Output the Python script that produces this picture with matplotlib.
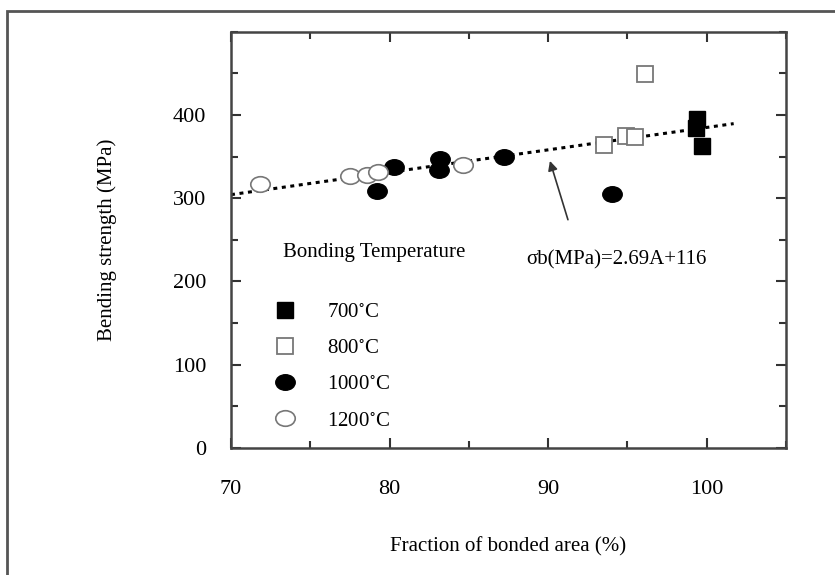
import matplotlib
matplotlib.use('Agg')
import matplotlib.pyplot as plt
import numpy as np
from matplotlib.path import Path
from matplotlib.patches import Rectangle
from matplotlib.ticker import MultipleLocator

plt.rcParams['font.family'] = ['Liberation Serif', 'DejaVu Serif']
plt.rcParams['mathtext.fontset'] = 'stix'

# data: fraction of bonded area (%) vs bending strength (MPa)
x700 = [99.4, 99.3, 99.7]
y700 = [395, 384, 363]
x800 = [96.1, 93.5, 94.9, 95.5]
y800 = [449, 364, 375, 373]
x1000 = [79.2, 80.3, 83.2, 83.1, 87.2, 94.0]
y1000 = [309, 338, 347, 334, 350, 305]
x1200 = [71.8, 77.5, 78.6, 79.3, 84.6]
y1200 = [317, 327, 328, 331, 340]
labels = ['700$^{\\circ}$C', '800$^{\\circ}$C', '1000$^{\\circ}$C', '1200$^{\\circ}$C']

# fit: sigma_b = 2.69 A + 116
slope, intercept = 2.69, 116
fit_x = np.array([70, 101.7])

# oval marker, a bit wider than tall
circ = Path.unit_circle()
oval = Path(circ.vertices * np.array([1.0, 0.8]), circ.codes)

fig = plt.figure(figsize=(8.35, 5.75), dpi=100)
ax = fig.add_axes([231 / 835, 1 - 448 / 575, 555 / 835, 416.3 / 575])

# outer frame (only left and top edges show)
fig.add_artist(Rectangle((7 / 835, -0.1), 1.2, 1.1 - 11 / 575,
                         transform=fig.transFigure, fill=False,
                         edgecolor='#555555', linewidth=2, clip_on=False))

ax.plot(fit_x, slope * fit_x + intercept, color='black', linewidth=2.2,
        linestyle=(0, (1.3, 1.5)), zorder=2)

ax.plot(x700, y700, linestyle='none', marker='s', markersize=12,
        markerfacecolor='black', markeredgecolor='black', label=labels[0], zorder=3)
ax.plot(x800, y800, linestyle='none', marker='s', markersize=12,
        markerfacecolor='white', markeredgecolor='#777777', markeredgewidth=1.3,
        label=labels[1], zorder=3)
ax.plot(x1000, y1000, linestyle='none', marker=oval, markersize=14,
        markerfacecolor='black', markeredgecolor='black', label=labels[2], zorder=3)
ax.plot(x1200, y1200, linestyle='none', marker=oval, markersize=14,
        markerfacecolor='white', markeredgecolor='#777777', markeredgewidth=1.2,
        label=labels[3], zorder=3)

ax.set_xlim(70, 105)
ax.set_ylim(0, 500)
ax.set_xticks([70, 80, 90, 100])
ax.set_yticks([0, 100, 200, 300, 400])
ax.xaxis.set_minor_locator(MultipleLocator(5))
ax.yaxis.set_minor_locator(MultipleLocator(50))
ax.tick_params(which='both', direction='in', top=True, right=True,
               width=1.5, color='#333333', labelsize=16)
ax.tick_params(which='major', length=7)
ax.tick_params(which='minor', length=5)
ax.tick_params(axis='x', which='major', pad=23)
ax.tick_params(axis='y', which='major', pad=18)
for s in ax.spines.values():
    s.set_linewidth(1.8)
    s.set_color('#444444')

ax.set_xlabel('Fraction of bonded area (%)', fontsize=15)
ax.set_ylabel('Bending strength (MPa)', fontsize=15)
ax.xaxis.set_label_coords(0.5, -0.214)
ax.yaxis.set_label_coords(-0.205, 0.5)

ax.text(73.3, 235, 'Bonding Temperature', fontsize=15, va='center', ha='left')
ax.annotate('', xy=(90.06, 348), xytext=(91.3, 271),
            arrowprops=dict(arrowstyle='-|>', color='#333333', lw=1.2,
                            mutation_scale=14))
ax.text(88.6, 226, 'σb(MPa)=2.69A+116', fontsize=15, va='center', ha='left')

leg = ax.legend(loc='upper left', bbox_to_anchor=(0.075, 0.35), frameon=False,
                fontsize=15, handlelength=1.2, handletextpad=1.4,
                labelspacing=0.8, borderpad=0, borderaxespad=0)

fig.savefig('out.png', dpi=100)
